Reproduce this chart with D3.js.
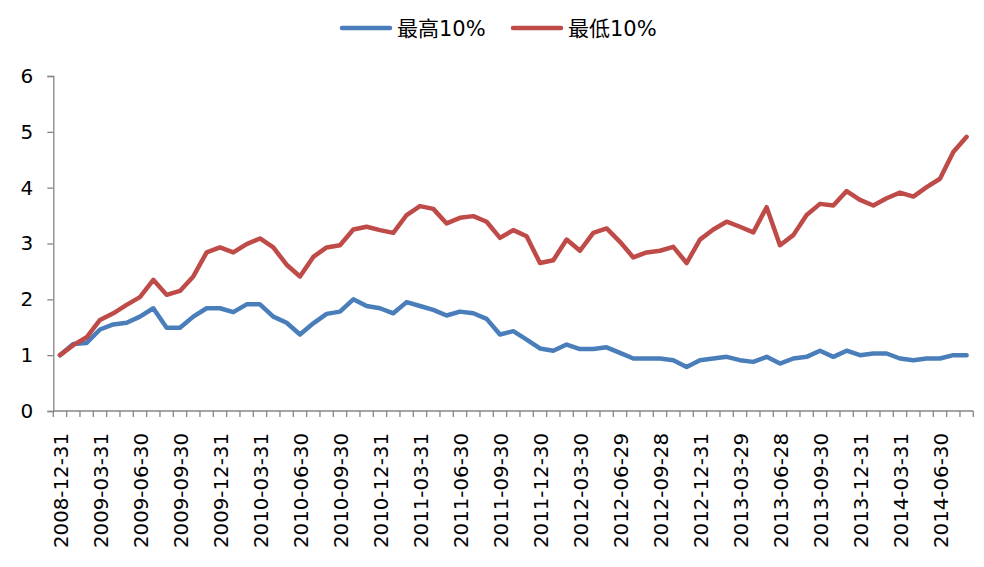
<!DOCTYPE html>
<html><head><meta charset="utf-8">
<script src="https://cdn.jsdelivr.net/npm/d3@7"></script>
<style>body{margin:0;background:#fff}svg{display:block}</style>
</head><body>
<svg id="c" width="984" height="567"></svg>
<script>
const categories = ["2008-12-31","2009-01-23","2009-02-27","2009-03-31","2009-04-30","2009-05-27","2009-06-30","2009-07-31","2009-08-31","2009-09-30","2009-10-30","2009-11-30","2009-12-31","2010-01-29","2010-02-26","2010-03-31","2010-04-30","2010-05-31","2010-06-30","2010-07-30","2010-08-31","2010-09-30","2010-10-29","2010-11-30","2010-12-31","2011-01-31","2011-02-28","2011-03-31","2011-04-29","2011-05-31","2011-06-30","2011-07-29","2011-08-31","2011-09-30","2011-10-31","2011-11-30","2011-12-30","2012-01-31","2012-02-29","2012-03-30","2012-04-27","2012-05-31","2012-06-29","2012-07-31","2012-08-31","2012-09-28","2012-10-31","2012-11-30","2012-12-31","2013-01-31","2013-02-28","2013-03-29","2013-04-26","2013-05-31","2013-06-28","2013-07-31","2013-08-30","2013-09-30","2013-10-31","2013-11-29","2013-12-31","2014-01-30","2014-02-28","2014-03-31","2014-04-30","2014-05-30","2014-06-30","2014-07-31","2014-08-29"];
const tickLabels = ["2008-12-31","2009-03-31","2009-06-30","2009-09-30","2009-12-31","2010-03-31","2010-06-30","2010-09-30","2010-12-31","2011-03-31","2011-06-30","2011-09-30","2011-12-30","2012-03-30","2012-06-29","2012-09-28","2012-12-31","2013-03-29","2013-06-28","2013-09-30","2013-12-31","2014-03-31","2014-06-30"];
const seriesNames = ["最高10%","最低10%"];
const top10 = [1.00,1.20,1.22,1.46,1.55,1.58,1.69,1.84,1.49,1.49,1.69,1.84,1.84,1.77,1.91,1.91,1.69,1.58,1.37,1.57,1.74,1.78,2.00,1.88,1.84,1.75,1.95,1.88,1.81,1.71,1.78,1.75,1.65,1.37,1.43,1.28,1.12,1.08,1.19,1.11,1.11,1.14,1.04,0.94,0.94,0.94,0.91,0.79,0.91,0.94,0.97,0.91,0.88,0.97,0.85,0.94,0.97,1.08,0.97,1.08,1.00,1.03,1.03,0.94,0.91,0.94,0.94,1.00,1.00];
const bottom10 = [1.00,1.18,1.32,1.63,1.75,1.90,2.04,2.35,2.08,2.15,2.41,2.84,2.93,2.84,2.99,3.09,2.93,2.62,2.41,2.76,2.93,2.97,3.25,3.30,3.24,3.19,3.51,3.67,3.62,3.36,3.46,3.49,3.39,3.10,3.24,3.13,2.65,2.70,3.07,2.87,3.19,3.27,3.03,2.75,2.84,2.87,2.94,2.65,3.07,3.25,3.39,3.30,3.20,3.65,2.97,3.15,3.51,3.71,3.68,3.94,3.78,3.68,3.81,3.91,3.84,4.01,4.16,4.64,4.91];
const yTicks = [0,1,2,3,4,5,6];
const colors = ["#4a7ebb","#be4b48"];

const svg = d3.select("#c");
const font = "'DejaVu Sans', sans-serif";
const x = d3.scaleBand().domain(categories).range([53.3, 973.3]).padding(0);
const y = d3.scaleLinear().domain([0,6]).range([411, 76]);
const axisColor = "#868686";

// Y axis
const ya = svg.append("g").attr("transform","translate(53.3,0)")
  .call(d3.axisLeft(y).tickValues(yTicks).tickSize(6).tickPadding(14).tickFormat(d3.format("d")));
ya.select(".domain").attr("stroke",axisColor).attr("stroke-width",1.3);
ya.selectAll(".tick line").attr("stroke",axisColor).attr("stroke-width",1.3);
ya.selectAll(".tick text").attr("font-family",font).attr("font-size",20).attr("fill","#000");

// X axis: ticks at band boundaries
const xa = svg.append("g").attr("transform","translate(0,411)");
xa.append("line").attr("x1",53.3).attr("x2",973.3).attr("y1",0).attr("y2",0)
  .attr("stroke",axisColor).attr("stroke-width",1.3);
const bounds = categories.map(c => x(c)).concat([x(categories[categories.length-1]) + x.bandwidth()]);
xa.selectAll("line.tk").data(bounds).enter().append("line").attr("class","tk")
  .attr("x1",d=>d).attr("x2",d=>d).attr("y1",0).attr("y2",6)
  .attr("stroke",axisColor).attr("stroke-width",1.3);
xa.selectAll("text").data(tickLabels).enter().append("text")
  .attr("transform", d => `translate(${x(d)+x.bandwidth()/2+1},22) rotate(-90)`)
  .attr("text-anchor","end").attr("dy","0.36em")
  .attr("font-family",font).attr("font-size",19.8).attr("fill","#000").text(d=>d);

// Lines
const line = d3.line().x((d,i)=>x(categories[i])+x.bandwidth()/2).y(d=>y(d));
[top10, bottom10].forEach((s,i) => {
  svg.append("path").datum(s).attr("d",line).attr("fill","none")
    .attr("stroke",colors[i]).attr("stroke-width",4.5)
    .attr("stroke-linejoin","round").attr("stroke-linecap","round");
});

// Legend
const legendItems = [{x:342, name:seriesNames[0], c:colors[0]},{x:513, name:seriesNames[1], c:colors[1]}];
legendItems.forEach(it => {
  svg.append("line").attr("x1",it.x).attr("x2",it.x+48).attr("y1",28).attr("y2",28)
    .attr("stroke",it.c).attr("stroke-width",4.5).attr("stroke-linecap","round");
  svg.append("text").attr("x",it.x+55).attr("y",28).attr("dy","0.36em")
    .attr("font-family","'DejaVu Sans','Noto Sans CJK SC',sans-serif").attr("font-size",21)
    .attr("fill","#000").text(it.name);
});
</script>
</body></html>
